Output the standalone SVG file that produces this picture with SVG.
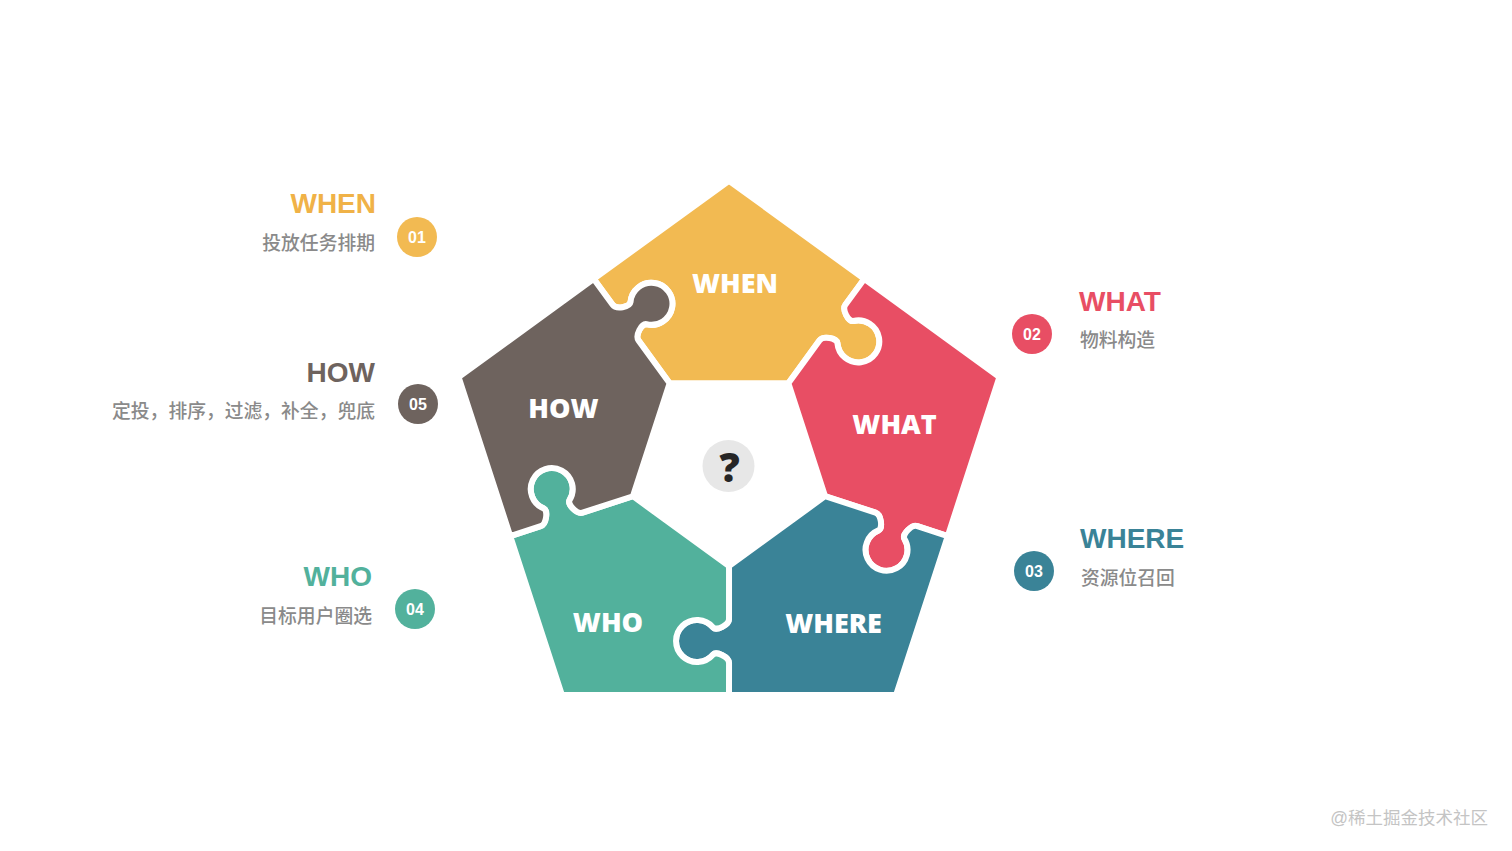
<svg xmlns="http://www.w3.org/2000/svg" xmlns:xlink="http://www.w3.org/1999/xlink" width="1512" height="851" viewBox="0 0 1512 851">
<style>
.piece{stroke:#fff;stroke-width:6;stroke-linejoin:round}
.c-when{fill:#F2BA52}
.c-what{fill:#E84E64}
.c-where{fill:#3A8397}
.c-who{fill:#52B19C}
.c-how{fill:#6E635E}
.plabel{font-family:"Open Sans","Liberation Sans",sans-serif;font-weight:800;font-size:27px;fill:#fff;text-anchor:middle}
.title{font-family:"Liberation Sans",Arial,sans-serif;font-weight:700;font-size:28px}
.sub{font-family:"Liberation Sans","Noto Sans CJK SC",sans-serif;font-size:18.8px;fill:#8a8a8a;font-weight:500}
.num{font-family:"Liberation Sans",Arial,sans-serif;font-size:16px;font-weight:700;fill:#fff;text-anchor:middle}
.r{text-anchor:end}
</style>
<defs>
<path id="piece" d="M -59.4,-81.7 L 59.4,-81.7 L 90.55,-124.58 C 94.08,-129.43 107.72,-126.94 108.43,-121.97 A 21 21 0 1 0 124.42,-143.98 C 119.47,-143.12 112.89,-155.32 116.42,-160.17 L 135.2,-186.1 L 0,-284.3 L -135.2,-186.1 L -116.42,-160.17 C -112.89,-155.32 -99.25,-157.82 -98.54,-162.78 A 21 21 0 1 1 -82.55,-140.77 C -87.5,-141.64 -94.08,-129.43 -90.55,-124.58 Z"/>
</defs>
<rect width="1512" height="851" fill="#fff"/>
<g id="connectors"/>
<g id="node-when">
<use xlink:href="#piece" class="piece c-when" transform="translate(729,465)"/>
<text class="plabel" x="735" y="293">WHEN</text>
</g>
<g id="node-what">
<use xlink:href="#piece" class="piece c-what" transform="translate(729,465) rotate(72)"/>
<text class="plabel" x="894.5" y="434">WHAT</text>
</g>
<g id="node-where">
<use xlink:href="#piece" class="piece c-where" transform="translate(729,465) rotate(144)"/>
<text class="plabel" x="833.5" y="633">WHERE</text>
</g>
<g id="node-who">
<use xlink:href="#piece" class="piece c-who" transform="translate(729,465) rotate(216)"/>
<text class="plabel" x="608" y="632">WHO</text>
</g>
<g id="node-how">
<use xlink:href="#piece" class="piece c-how" transform="translate(729,465) rotate(288)"/>
<text class="plabel" x="563.5" y="418">HOW</text>
</g>
<g id="node-center">
<circle cx="728.5" cy="466" r="26" fill="#E7E7E7"/>
<text x="729.5" y="482" font-family="Open Sans, Liberation Sans, sans-serif" font-weight="800" font-size="40" fill="#262626" text-anchor="middle">?</text>
</g>
<g id="legend-when">
<text class="title r" x="376" y="213" fill="#F0B247">WHEN</text>
<text class="sub r" x="375" y="250">投放任务排期</text>
<circle cx="417" cy="237" r="20" fill="#F2BA52"/>
<text class="num" x="417" y="242.5">01</text>
</g>
<g id="legend-how">
<text class="title r" x="375" y="382" fill="#6E635E">HOW</text>
<text class="sub r" x="375" y="418">定投，排序，过滤，补全，兜底</text>
<circle cx="418" cy="404" r="20" fill="#6E635E"/>
<text class="num" x="418" y="409.5">05</text>
</g>
<g id="legend-who">
<text class="title r" x="372" y="586" fill="#52B19C">WHO</text>
<text class="sub r" x="372" y="623">目标用户圈选</text>
<circle cx="415" cy="609" r="20" fill="#52B19C"/>
<text class="num" x="415" y="614.5">04</text>
</g>
<g id="legend-what">
<circle cx="1032" cy="334" r="20" fill="#E84E64"/>
<text class="num" x="1032" y="339.5">02</text>
<text class="title" x="1079" y="311" fill="#E84E64">WHAT</text>
<text class="sub" x="1080" y="347">物料构造</text>
</g>
<g id="legend-where">
<circle cx="1034" cy="571" r="20" fill="#3A8397"/>
<text class="num" x="1034" y="576.5">03</text>
<text class="title" x="1080" y="548" fill="#3A8397">WHERE</text>
<text class="sub" x="1081" y="585">资源位召回</text>
</g>
<text x="1488" y="824" font-family="Liberation Sans, Noto Sans CJK SC, sans-serif" font-size="17.5" fill="#c4c4c4" text-anchor="end">@稀土掘金技术社区</text>
</svg>
